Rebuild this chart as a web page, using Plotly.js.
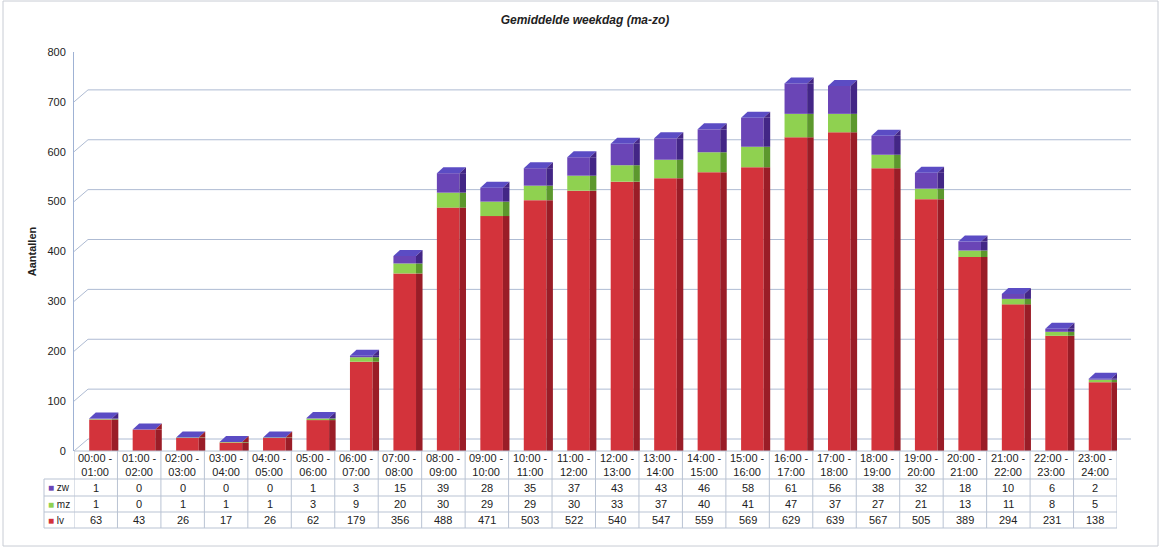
<!DOCTYPE html>
<html>
<head>
<meta charset="utf-8">
<script src="https://cdn.plot.ly/plotly-3.0.1.min.js"></script>
<style>html,body{margin:0;padding:0;background:#fff;}#chart{width:1161px;height:549px;}</style>
</head>
<body>
<div id="chart"></div>
<script>
// ---- data ----
var categories = ["00:00 - 01:00","01:00 - 02:00","02:00 - 03:00","03:00 - 04:00","04:00 - 05:00","05:00 - 06:00",
  "06:00 - 07:00","07:00 - 08:00","08:00 - 09:00","09:00 - 10:00","10:00 - 11:00","11:00 - 12:00",
  "12:00 - 13:00","13:00 - 14:00","14:00 - 15:00","15:00 - 16:00","16:00 - 17:00","17:00 - 18:00",
  "18:00 - 19:00","19:00 - 20:00","20:00 - 21:00","21:00 - 22:00","22:00 - 23:00","23:00 - 24:00"];
var lv = [63,43,26,17,26,62,179,356,488,471,503,522,540,547,559,569,629,639,567,505,389,294,231,138];
var mz = [1,0,1,1,1,3,9,20,30,29,29,30,33,37,40,41,47,37,27,21,13,11,8,5];
var zw = [1,0,0,0,0,1,3,15,39,28,35,37,43,43,46,58,61,56,38,32,18,10,6,2];
var seriesNames = ["lv","mz","zw"];
var yTicks = [0,100,200,300,400,500,600,700,800];
var chartTitle = "Gemiddelde weekdag (ma-zo)";
var yTitle = "Aantallen";

// ---- styles ----
var frontColors = {lv:"#d3333b", mz:"#8fd150", zw:"#6a45b6"};
var sideColors  = {lv:"#9a1d27", mz:"#5c982d", zw:"#432686"};
var topColor = "#5b4cc4";
var gridColor = "#aebbd3";
var tableLine = "#b9c3d3";

var idx = categories.map(function(_, i){ return i; });
var seriesData = {lv: lv, mz: mz, zw: zw};

// cumulative bases
var bases = {};
var run = lv.map(function(){ return 0; });
seriesNames.forEach(function(n){
  bases[n] = run.slice();
  run = run.map(function(v, i){ return v + seriesData[n][i]; });
});
var totals = run;

var FRONT_OFF = -0.15, FRONT_W = 0.52, SIDE_W = 0.15;
var traces = [];
seriesNames.forEach(function(n){
  traces.push({type:"bar", x: idx, y: seriesData[n], base: bases[n], name: n,
    width: FRONT_W, offset: FRONT_OFF, marker:{color: frontColors[n], line:{width:0}}, showlegend:false,
    hovertemplate: n + ": %{y}<extra></extra>"});
  traces.push({type:"bar", x: idx, y: seriesData[n], base: bases[n], name: n + " side",
    width: SIDE_W, offset: FRONT_OFF + FRONT_W, marker:{color: sideColors[n], line:{width:0}}, showlegend:false, hoverinfo:"skip"});
});

// ---- geometry helpers (plot area: left 74, width 1043, top 52, height 399) ----
var L = 74, W = 1043, T = 52, H = 399, B = T + H;
var colPx = W / categories.length;
function px2xp(px){ return (px - L) / W; }
function py2yp(py){ return (B - py) / H; }

var shapes = [];
var annotations = [];

// 3D-style gridlines
yTicks.forEach(function(v){
  shapes.push({type:"line", xref:"x", xsizemode:"pixel", xanchor:-0.5, x0:0, x1:14,
    yref:"y", ysizemode:"pixel", yanchor:v, y0:0, y1:12, line:{color:gridColor, width:1}, layer:"below"});
  shapes.push({type:"line", xref:"paper", x0:px2xp(L+14), x1:px2xp(L+W+14),
    yref:"y", ysizemode:"pixel", yanchor:v, y0:12, y1:12, line:{color:gridColor, width:1}, layer:"below"});
});
shapes.push({type:"line", xref:"x", xsizemode:"pixel", xanchor:23.5, x0:0, x1:14,
  yref:"y", ysizemode:"pixel", yanchor:0, y0:0, y1:12, line:{color:gridColor, width:1}, layer:"below"});

// top faces of the 3D columns (anchored to each column's total)
var xl = FRONT_OFF * colPx, xr = (FRONT_OFF + FRONT_W) * colPx, d = SIDE_W * colPx, h = 6;
totals.forEach(function(t, i){
  shapes.push({type:"path", xref:"x", xsizemode:"pixel", xanchor:i, yref:"y", ysizemode:"pixel", yanchor:t,
    path:"M" + xl + ",0 L" + xr + ",0 L" + (xr + d) + "," + h + " L" + (xl + d) + "," + h + " Z",
    fillcolor: topColor, line:{width:0}, layer:"above"});
  shapes.push({type:"path", xref:"x", xsizemode:"pixel", xanchor:i, yref:"y", ysizemode:"pixel", yanchor:t,
    path:"M" + xr + ",0 L" + (xr + d) + "," + h + " L" + (xr + d) + ",0 Z",
    fillcolor: t - zw[i] < t - 0.5 ? sideColors.zw : sideColors.lv, line:{width:0}, layer:"above"});
});

// table lines
var rowLines = [451, 479, 496, 512, 528];
rowLines.forEach(function(py, k){
  shapes.push({type:"line", xref:"paper", x0: k === 0 ? 0 : px2xp(44), x1:1, yref:"paper", y0:py2yp(py), y1:py2yp(py),
    line:{color:tableLine, width:1}});
});
for (var i = 0; i <= categories.length; i++) {
  shapes.push({type:"line", xref:"x", x0:i-0.5, x1:i-0.5, yref:"paper", y0:py2yp(451), y1:py2yp(528),
    line:{color:tableLine, width:1}});
}
shapes.push({type:"line", xref:"paper", x0:px2xp(44), x1:px2xp(44), yref:"paper", y0:py2yp(479), y1:py2yp(528),
  line:{color:tableLine, width:1}});
// outer border
shapes.push({type:"rect", xref:"paper", yref:"paper", x0:px2xp(3), x1:px2xp(1158), y0:py2yp(546), y1:py2yp(1),
  line:{color:"#c8ccd4", width:1}, fillcolor:"rgba(0,0,0,0)"});

var tf = {family:"Liberation Sans, Arial, sans-serif", size:11, color:"#222"};
categories.forEach(function(c, i){
  annotations.push({xref:"x", yref:"paper", x:i, y:py2yp(465), text:c.replace(" - ", " -<br>"),
    showarrow:false, font:tf, xanchor:"center", yanchor:"middle"});
});
var rows = [{n:"zw", py:487.5}, {n:"mz", py:504}, {n:"lv", py:520}];
rows.forEach(function(r){
  annotations.push({xref:"paper", yref:"paper", x:px2xp(46), y:py2yp(r.py), xanchor:"left", yanchor:"middle",
    text:'<span style="color:' + frontColors[r.n] + '">■</span> ' + r.n, showarrow:false,
    font:{family:tf.family, size:10, color:"#222"}});
  seriesData[r.n].forEach(function(v, i){
    annotations.push({xref:"x", yref:"paper", x:i, y:py2yp(r.py), text:String(v), showarrow:false,
      font:tf, xanchor:"center", yanchor:"middle"});
  });
});

var layout = {
  width:1161, height:549,
  margin:{l:L, r:1161-L-W, t:T, b:549-B, pad:0},
  paper_bgcolor:"#fff", plot_bgcolor:"rgba(0,0,0,0)",
  barmode:"overlay",
  title:{text:"<b><i>" + chartTitle + "</i></b>", x:px2xp(585), xref:"paper", y:1-20/549, yref:"container",
    xanchor:"center", yanchor:"middle", font:{family:"Liberation Sans, Arial, sans-serif", size:12, color:"#222"}},
  xaxis:{type:"linear", range:[-0.5, 23.5], showticklabels:false, showgrid:false, zeroline:false,
    showline:false, ticks:"", fixedrange:true},
  yaxis:{range:[0, 800], tickvals:yTicks, showgrid:false, zeroline:false, showline:true,
    linecolor:"#9fb2d4", linewidth:1, ticks:"", ticklabelstandoff:5,
    tickfont:{family:"Liberation Sans, Arial, sans-serif", size:11, color:"#222"},
    title:{text:"<b>" + yTitle + "</b>", standoff:8, font:{family:"Liberation Sans, Arial, sans-serif", size:11, color:"#222"}}},
  shapes:shapes,
  annotations:annotations,
  showlegend:false
};

Plotly.newPlot("chart", traces, layout, {displayModeBar:false, staticPlot:true});
</script>
</body>
</html>
